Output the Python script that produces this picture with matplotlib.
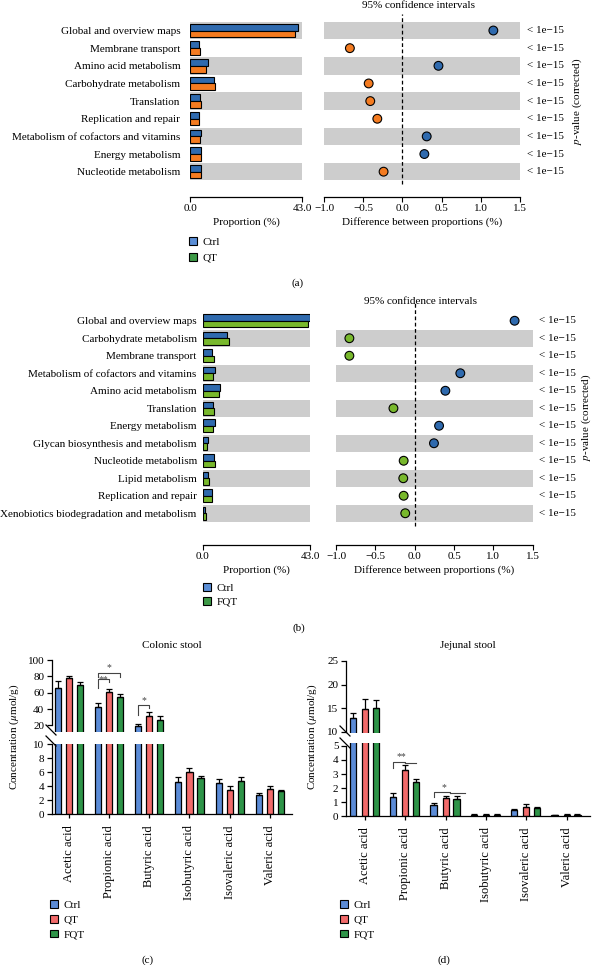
import numpy as np
import matplotlib.pyplot as plt
from matplotlib.patches import Patch
from matplotlib.lines import Line2D

plt.rcParams['font.family'] = ['Liberation Serif', 'DejaVu Serif']
plt.rcParams['mathtext.fontset'] = 'stix'
plt.rcParams['font.size'] = 8
plt.rcParams['axes.linewidth'] = 0.9

# ---------------------------------------------------------
# data
# ---------------------------------------------------------
a_features = ['Global and overview maps', 'Membrane transport', 'Amino acid metabolism',
              'Carbohydrate metabolism', 'Translation', 'Replication and repair',
              'Metabolism of cofactors and vitamins', 'Energy metabolism',
              'Nucleotide metabolism']
a_ctrl = [41.4, 3.5, 6.8, 9.1, 4.0, 3.5, 4.4, 4.2, 4.2]
a_qt = [40.3, 4.0, 6.3, 9.7, 4.4, 3.6, 4.0, 4.2, 4.4]
a_diff = [1.16, -0.67, 0.46, -0.43, -0.41, -0.32, 0.31, 0.28, -0.24]

b_features = ['Global and overview maps', 'Carbohydrate metabolism', 'Membrane transport',
              'Metabolism of cofactors and vitamins', 'Amino acid metabolism', 'Translation',
              'Energy metabolism', 'Glycan biosynthesis and metabolism',
              'Nucleotide metabolism', 'Lipid metabolism', 'Replication and repair',
              'Xenobiotics biodegradation and metabolism']
b_ctrl = [42.9, 9.8, 3.6, 4.7, 7.0, 4.0, 4.7, 1.9, 4.4, 2.2, 3.6, 1.0]
b_fqt = [42.2, 10.6, 4.4, 3.9, 6.6, 4.3, 4.2, 1.6, 4.7, 2.4, 3.8, 1.4]
b_diff = [1.27, -0.83, -0.83, 0.58, 0.39, -0.27, 0.31, 0.245, -0.14, -0.145, -0.14, -0.12]

p_text = '< 1e\u221215'

acids = ['Acetic acid', 'Propionic acid', 'Butyric acid', 'Isobutyric acid',
         'Isovaleric acid', 'Valeric acid']
groups = ['Ctrl', 'QT', 'FQT']

col_ctrl = [66.3, 42.8, 18.8, 4.6, 4.4, 2.7]
col_ctrl_err = [8.5, 4.5, 2.8, 0.7, 0.6, 0.25]
col_qt = [78.0, 61.4, 31.9, 6.05, 3.4, 3.65]
col_qt_err = [3.0, 3.3, 4.0, 0.5, 0.6, 0.35]
col_fqt = [69.6, 55.3, 27.0, 5.1, 4.7, 3.3]
col_fqt_err = [3.3, 3.7, 4.0, 0.4, 0.6, 0.2]

jej_ctrl = [12.8, 1.39, 0.78, 0.10, 0.45, 0.08]
jej_ctrl_err = [1.2, 0.24, 0.19, 0.03, 0.08, 0.02]
jej_qt = [14.8, 3.26, 1.30, 0.12, 0.68, 0.10]
jej_qt_err = [2.2, 0.36, 0.14, 0.03, 0.19, 0.03]
jej_fqt = [15.0, 2.41, 1.25, 0.10, 0.59, 0.10]
jej_fqt_err = [1.65, 0.21, 0.19, 0.03, 0.09, 0.03]

W, H = 596, 965
fig = plt.figure(figsize=(W / 100, H / 100), dpi=100)


def rect(x0, y0, x1, y1):
    # pixel box -> figure fraction
    return [x0 / W, 1 - y1 / H, (x1 - x0) / W, (y1 - y0) / H]


# colours
c_blue = '#2f6aae'
c_orange = '#f47b20'
c_lime = '#78b82c'
c_band = '#cdcdcd'
leg_blue = '#5b8ed6'
leg_green = '#3d9a47'


def stamp(bar_box, diff_box, feats, g1, g2, diff, col2, out_pt, lab_pad, pv_x, title_x, title_y):
    n = len(feats)
    y = np.arange(n)
    ax = fig.add_axes(rect(*bar_box))
    ax2 = fig.add_axes(rect(*diff_box))
    for a in (ax, ax2):
        for i in range(n):
            if (n - 1 - i) % 2 == 0:
                a.axhspan(i - 0.5, i + 0.5, color=c_band, lw=0, zorder=0)
        a.set_ylim(n - 0.5, -0.5)
        for s in ('left', 'right', 'top'):
            a.spines[s].set_visible(False)
        a.spines['bottom'].set_position(('outward', out_pt))
        a.tick_params(axis='x', length=3.5, width=0.8, pad=1.5)

    ax.barh(y - 0.19, g1, height=0.38, color=c_blue, edgecolor='black', lw=0.8, zorder=2)
    ax.barh(y + 0.19, g2, height=0.38, color=col2, edgecolor='black', lw=0.8, zorder=2)
    ax.set_xlim(0, 43)
    ax.set_xticks([0, 43], ['0.0', '43.0'])
    ax.set_yticks(y, feats)
    ax.tick_params(axis='y', length=0, pad=lab_pad)
    ax.set_xlabel('Proportion (%)', labelpad=3)

    diff = np.array(diff)
    cols = np.where(diff > 0, c_blue, col2)
    ax2.scatter(diff, y, s=40, c=cols, edgecolors='black', linewidths=0.8, zorder=3)
    ax2.axvline(0, ymin=-0.02, ymax=1.05, color='black', ls=(0, (3, 2)), lw=0.9,
                clip_on=False, zorder=2)
    ax2.set_xlim(-1.0, 1.5)
    ax2.set_xticks(np.arange(-1.0, 1.51, 0.5))
    ax2.xaxis.set_major_formatter(plt.FuncFormatter(lambda v, p: f'{v:.1f}'.replace('-', '\u2212')))
    ax2.set_yticks([])
    ax2.set_xlabel('Difference between proportions (%)', labelpad=3)
    tr = ax2.get_yaxis_transform()
    for i in range(n):
        ax2.text(1.034, i, p_text, transform=tr, va='center', ha='left')
    ax2.text(pv_x, 0.5, '$p$-value (corrected)', transform=ax2.transAxes, rotation=90,
             va='center', ha='center')
    fig.text(title_x / W, 1 - title_y / H, '95% confidence intervals', ha='center', va='center')


stamp((190, 21.7, 302, 180.5), (324, 21.7, 520, 180.5), a_features, a_ctrl, a_qt, a_diff,
      c_orange, 11.9, 7, 1.29, 418, 6)
stamp((203, 312, 310, 522), (336, 312, 532.7, 522), b_features, b_ctrl, b_fqt, b_diff,
      c_lime, 16.6, 4.5, 1.27, 421, 302)

fig.legend(handles=[Patch(fc=leg_blue, ec='black', lw=0.8, label='Ctrl'),
                    Patch(fc=leg_green, ec='black', lw=0.8, label='QT')],
           loc='upper left', bbox_to_anchor=(189 / W, 1 - 237 / H), frameon=False,
           borderpad=0, borderaxespad=0, handlelength=0.7, handleheight=0.7,
           handletextpad=0.5, labelspacing=0.55)
fig.legend(handles=[Patch(fc=leg_blue, ec='black', lw=0.8, label='Ctrl'),
                    Patch(fc=leg_green, ec='black', lw=0.8, label='FQT')],
           loc='upper left', bbox_to_anchor=(203 / W, 1 - 583 / H), frameon=False,
           borderpad=0, borderaxespad=0, handlelength=0.7, handleheight=0.7,
           handletextpad=0.5, labelspacing=0.4)
fig.text(298 / W, 1 - 283 / H, '(a)', ha='center', va='center')
fig.text(299 / W, 1 - 628 / H, '(b)', ha='center', va='center')

# ---------------------------------------------------------
# SCFA bar charts with broken y-axis
# ---------------------------------------------------------
g_ctrl = '#5b8bd6'
g_qt = '#f26b6b'
g_fqt = '#2e9448'
g_cols = [g_ctrl, g_qt, g_fqt]


def scfa(up_box, low_box, vals, errs, up_lim, up_ticks, low_lim, low_ticks, xlim, offs,
         title, ylab_x):
    axu = fig.add_axes(rect(*up_box))
    axl = fig.add_axes(rect(*low_box))
    x = np.arange(len(acids))
    for a in (axu, axl):
        for k in range(3):
            a.bar(x + offs[k], vals[k], width=0.15, color=g_cols[k], edgecolor='black',
                  lw=0.9, zorder=2)
            a.errorbar(x + offs[k], vals[k], yerr=[np.zeros(len(x)), errs[k]], fmt='none',
                       ecolor='black', elinewidth=0.9, capsize=2, capthick=0.9, zorder=3)
        a.set_xlim(*xlim)
        a.spines['right'].set_visible(False)
        a.spines['top'].set_visible(False)
        a.tick_params(axis='y', length=3.5, width=0.9, pad=2)
    axu.set_ylim(*up_lim)
    axu.set_yticks(up_ticks)
    axu.spines['left'].set_bounds(up_ticks[0], up_ticks[-1])
    axu.spines['bottom'].set_visible(False)
    axu.set_xticks([])
    axl.set_ylim(*low_lim)
    axl.set_yticks(low_ticks)
    axl.spines['left'].set_bounds(low_ticks[0], low_ticks[-1])
    axl.set_xticks(x, acids, rotation=90, fontsize=9)
    axl.tick_params(axis='x', length=3, width=0.9, pad=5)
    axu.set_title(title, fontsize=8, pad=9)
    fig.text(ylab_x / W, 1 - 737 / H, 'Concentration ($\\mu$mol/g)', rotation=90,
             ha='center', va='center')
    return axu, axl


def bracket(ax, x1, x2, y, l1, l2, txt, tx, va='bottom'):
    ax.plot([x1, x1, x2, x2], [l1, y, y, l2], color='#444444', lw=0.8, zorder=4)
    if txt:
        ax.text(tx, y, txt, ha='center', va=va, fontsize=7, color='#444444')


co = [-0.274, 0.0, 0.274]
cu, cl = scfa((52, 660, 292, 732), (52, 744.3, 292, 814),
              [col_ctrl, col_qt, col_fqt], [col_ctrl_err, col_qt_err, col_fqt_err],
              (12, 100), [20, 40, 60, 80, 100], (0, 10), [0, 2, 4, 6, 8, 10],
              (-0.42, 5.55), co, 'Colonic stool', 14)
bracket(cu, 1 + co[0], 1 + co[2], 84.6, 79.3, 79.3, '*', 1.0)
bracket(cu, 1 + co[0], 1 + co[1], 76.5, 66.0, 73.0, '**', 0.86, va='center')
bracket(cu, 2 + co[0], 2 + co[1], 44.4, 33.0, 41.6, '*', 1.86)

jo = [-0.3, 0.0, 0.27]
ju, jl = scfa((346, 661, 590, 733), (346, 743, 590, 816.3),
              [jej_ctrl, jej_qt, jej_fqt], [jej_ctrl_err, jej_qt_err, jej_fqt_err],
              (9.7, 25), [10, 15, 20, 25], (0, 5.2), [0, 1, 2, 3, 4, 5],
              (-0.47, 5.58), jo, 'Jejunal stool', 312)
bracket(jl, 1 + jo[0], 1 + jo[1], 3.88, 3.41, 3.75, '**', 0.9)
jl.plot([1 + jo[1], 1 + jo[2]], [3.77, 3.77], color='#444444', lw=0.8, zorder=4)
bracket(jl, 2 + jo[0], 2 + jo[1] + 0.1, 1.75, 1.39, 1.62, '*', 1.95)
jl.plot([2 + jo[1] + 0.1, 2 + jo[2] + 0.2], [1.64, 1.64], color='#444444', lw=0.8, zorder=4)

# break marks on the y-axes
for (x0, y0, x1, y1) in [(46, 725, 56, 735), (46, 736, 56, 746),
                         (340, 726, 350, 736), (340, 738, 350, 748)]:
    fig.add_artist(Line2D([x0 / W, x1 / W], [1 - y0 / H, 1 - y1 / H], color='black', lw=0.9))

for lx in (50, 340):
    fig.legend(handles=[Patch(fc=c, ec='black', lw=0.8, label=g) for c, g in zip(g_cols, groups)],
               loc='upper left', bbox_to_anchor=(lx / W, 1 - 900 / H), frameon=False,
               borderpad=0, borderaxespad=0, handlelength=0.7, handleheight=0.7,
               handletextpad=0.5, labelspacing=0.45)
fig.text(148 / W, 1 - 960 / H, '(c)', ha='center', va='center')
fig.text(444 / W, 1 - 960 / H, '(d)', ha='center', va='center')

fig.savefig('out.png', dpi=100)
